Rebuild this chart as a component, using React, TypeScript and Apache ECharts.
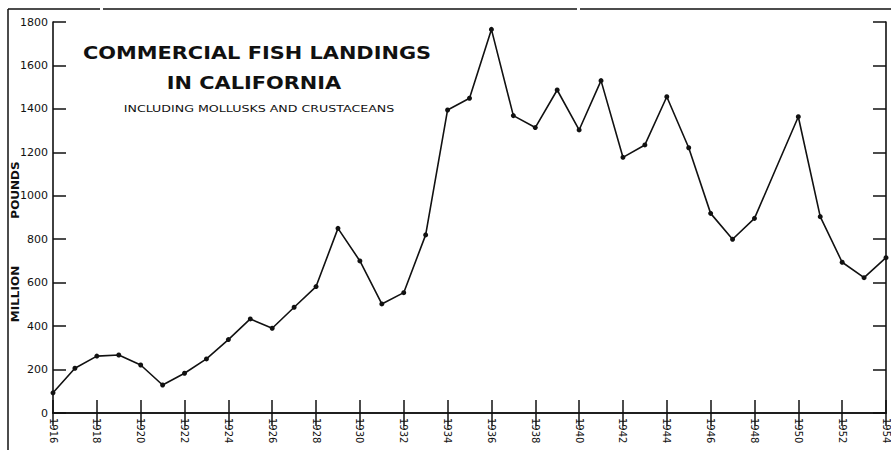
import React, { useEffect, useRef } from "react";
import * as echarts from "echarts";

const years = [
  1916, 1917, 1918, 1919, 1920, 1921, 1922, 1923, 1924, 1925, 1926, 1927, 1928,
  1929, 1930, 1931, 1932, 1933, 1934, 1935, 1936, 1937, 1938, 1939, 1940, 1941,
  1942, 1943, 1944, 1945, 1946, 1947, 1948, 1949, 1950, 1951, 1952, 1953, 1954,
];
const landings = [
  93, 206, 262, 267, 221, 129, 183, 249, 338, 433, 390, 487, 582, 850, 700, 502,
  554, 820, 1395, 1449, 1766, 1369, 1314, 1487, 1303, 1530, 1177, 1234, 1456,
  1221, 919, 800, 896, 1130, 1364, 904, 694, 623, 715,
];
const hiddenDotYears = [1949];
const titleLines = ["COMMERCIAL FISH LANDINGS", "IN CALIFORNIA"];
const subtitle = "INCLUDING MOLLUSKS AND CRUSTACEANS";
const yNameParts = ["MILLION", "POUNDS"];

const INK = "#111";
const FONT = "DejaVu Sans";

export default function App() {
  const ref = useRef<HTMLDivElement>(null);
  useEffect(() => {
    document.body.style.margin = "0";
    const chart = echarts.init(ref.current!, null, { renderer: "svg" });
    const data = years.map((y, i) => {
      const item: any = { value: [y, landings[i]] };
      if (hiddenDotYears.includes(y)) item.symbolSize = 0;
      return item;
    });
    const tickLen = 13;
    const axisLine = { show: true, lineStyle: { color: INK, width: 1.6 } };
    const axisTick = { show: true, inside: true, length: tickLen, lineStyle: { color: INK, width: 1.5 } };
    chart.setOption({
      animation: false,
      backgroundColor: "#fff",
      grid: { left: 53, right: 4, top: 22, bottom: 37, show: false },
      xAxis: [
        {
          type: "value",
          min: 1916,
          max: 1954,
          interval: 2,
          position: "bottom",
          splitLine: { show: false },
          axisLine,
          axisTick,
          axisLabel: {
            rotate: -90,
            margin: 5,
            color: INK,
            fontFamily: FONT,
            fontSize: 10,
            formatter: (v: number) => String(v),
            showMaxLabel: true,
          },
        },
        {
          type: "value",
          min: 1916,
          max: 1954,
          interval: 2,
          position: "top",
          splitLine: { show: false },
          axisLine,
          axisTick,
          axisLabel: { show: false },
        },
      ],
      yAxis: [
        {
          type: "value",
          min: 0,
          max: 1800,
          interval: 200,
          position: "left",
          splitLine: { show: false },
          axisLine,
          axisTick,
          axisLabel: {
            color: INK,
            fontFamily: FONT,
            fontSize: 11,
            margin: 5,
            formatter: (v: number) => String(v),
          },
        },
        {
          type: "value",
          min: 0,
          max: 1800,
          interval: 200,
          position: "right",
          splitLine: { show: false },
          axisLine,
          axisTick,
          axisLabel: { show: false },
        },
      ],
      series: [
        {
          type: "line",
          data,
          xAxisIndex: 0,
          yAxisIndex: 0,
          symbol: "circle",
          symbolSize: 5,
          lineStyle: { color: INK, width: 1.6 },
          itemStyle: { color: INK },
          z: 5,
        },
      ],
      graphic: [
        { type: "line", shape: { x1: 8, y1: 9, x2: 100, y2: 9 }, style: { stroke: INK, lineWidth: 1.5 } },
        { type: "line", shape: { x1: 103, y1: 9, x2: 577, y2: 9 }, style: { stroke: INK, lineWidth: 1.5 } },
        { type: "line", shape: { x1: 580, y1: 9, x2: 891, y2: 9 }, style: { stroke: INK, lineWidth: 1.5 } },
        { type: "line", shape: { x1: 8, y1: 9, x2: 8, y2: 450 }, style: { stroke: INK, lineWidth: 1.5 } },
        {
          type: "text",
          x: 257,
          y: 53,
          scaleX: 1.16,
          style: {
            text: titleLines[0],
            fill: INK,
            font: `bold 18px "${FONT}"`,
            textAlign: "center",
            textVerticalAlign: "middle",
          },
        },
        {
          type: "text",
          x: 254,
          y: 83,
          scaleX: 1.16,
          style: {
            text: titleLines[1],
            fill: INK,
            font: `bold 18px "${FONT}"`,
            textAlign: "center",
            textVerticalAlign: "middle",
          },
        },
        {
          type: "text",
          x: 259,
          y: 109,
          scaleX: 1.33,
          style: {
            text: subtitle,
            fill: INK,
            font: `9.5px "${FONT}"`,
            textAlign: "center",
            textVerticalAlign: "middle",
          },
        },
        {
          type: "text",
          x: 16,
          y: 294,
          rotation: Math.PI / 2,
          scaleX: 1.2,
          style: {
            text: yNameParts[0],
            fill: INK,
            font: `bold 10px "${FONT}"`,
            textAlign: "center",
            textVerticalAlign: "middle",
          },
        },
        {
          type: "text",
          x: 16,
          y: 190,
          rotation: Math.PI / 2,
          scaleX: 1.2,
          style: {
            text: yNameParts[1],
            fill: INK,
            font: `bold 10px "${FONT}"`,
            textAlign: "center",
            textVerticalAlign: "middle",
          },
        },
      ],
    });
    return () => chart.dispose();
  }, []);
  return <div ref={ref} style={{ width: 891, height: 450 }} />;
}
